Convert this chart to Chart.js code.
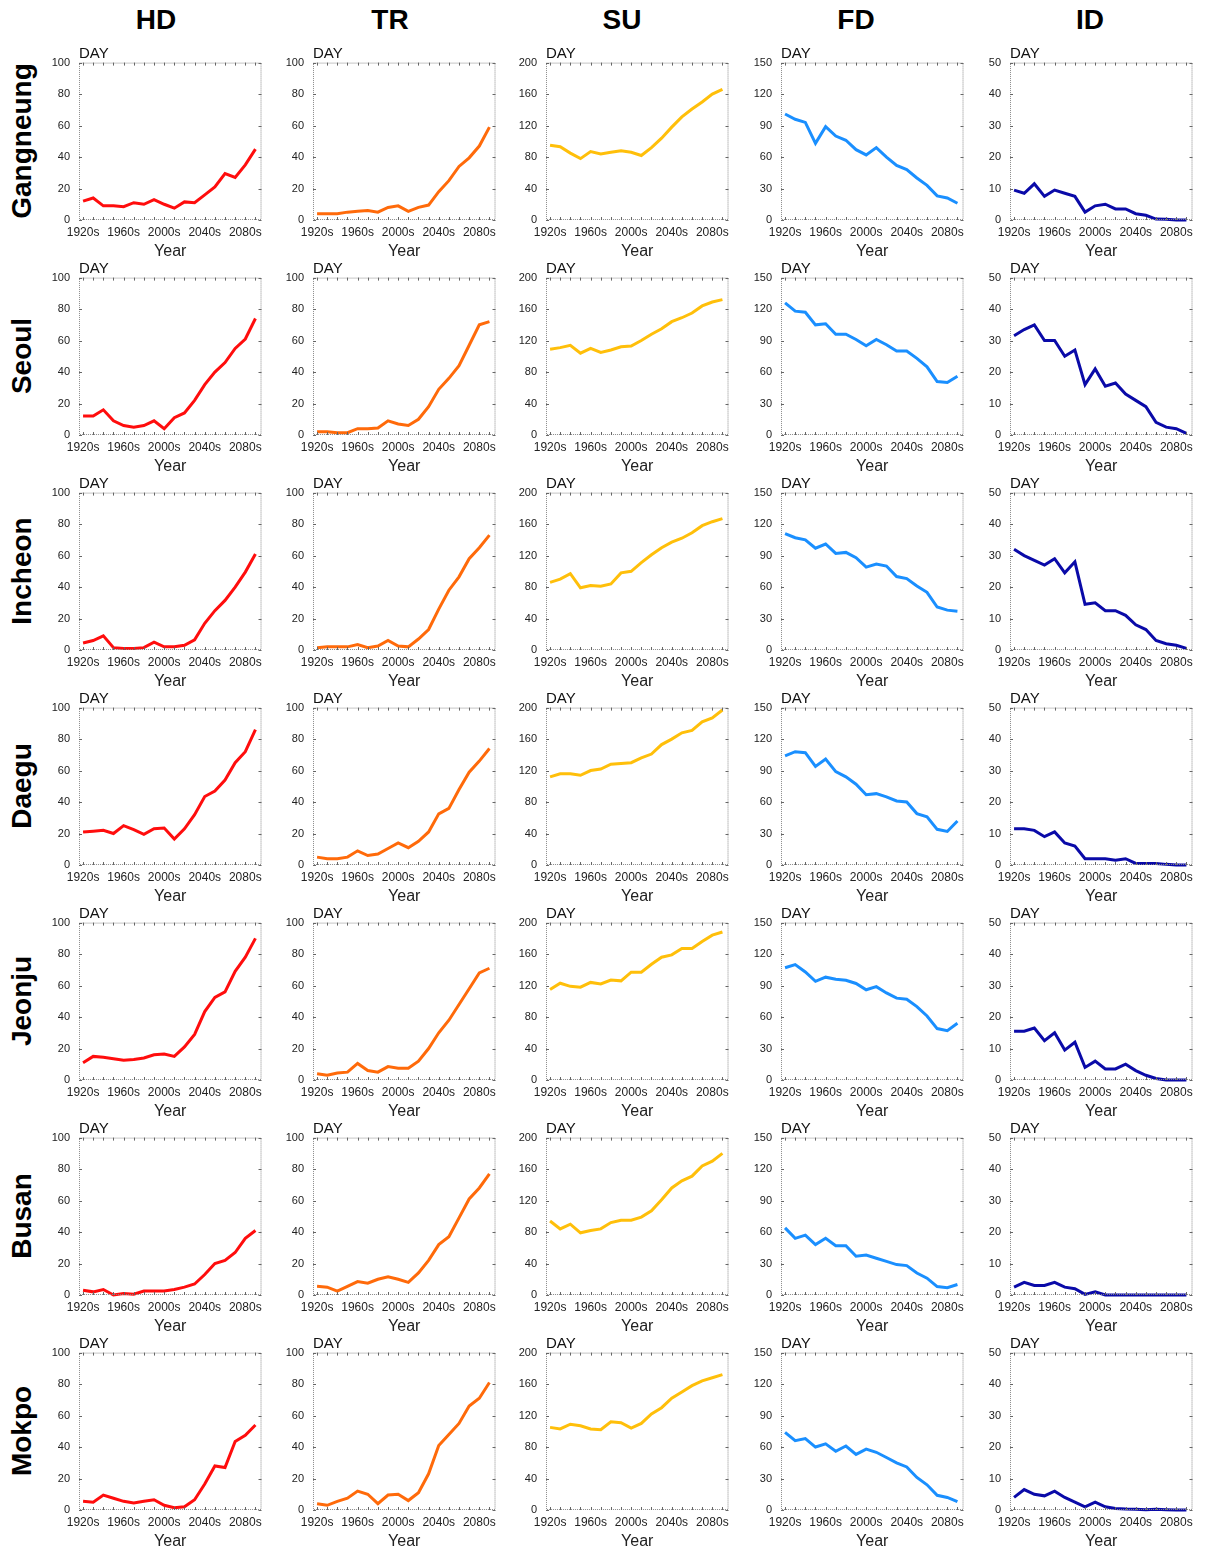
<!DOCTYPE html>
<html>
<head>
<meta charset="utf-8">
<script src="https://cdn.jsdelivr.net/npm/chart.js@4.4.1/dist/chart.umd.min.js"></script>
<style>
  body { margin: 0; background: #fff; }
  #wrap { position: relative; width: 1205px; height: 1551px; background: #fff; font-family: "Liberation Sans", Arial, sans-serif; overflow: hidden; }
  canvas { position: absolute; }
  .colhead { position: absolute; font-weight: bold; font-size: 28px; color: #000; transform: translate(-50%, -50%); white-space: nowrap; }
  .rowhead { position: absolute; font-weight: bold; font-size: 28px; color: #000; transform: translate(-50%, -50%) rotate(-90deg); white-space: nowrap; }
  .day { position: absolute; font-size: 15px; line-height: 15px; color: #111; z-index: 2; }
</style>
</head>
<body>
<div id="wrap"></div>
<script>
// decades on the x axis
const decades = [1920, 1930, 1940, 1950, 1960, 1970, 1980, 1990, 2000, 2010, 2020, 2030, 2040, 2050, 2060, 2070, 2080, 2090];
const xTickValues = [1920, 1960, 2000, 2040, 2080];

const indices = ['HD', 'TR', 'SU', 'FD', 'ID'];
const cities = ['Gangneung', 'Seoul', 'Incheon', 'Daegu', 'Jeonju', 'Busan', 'Mokpo'];

// y axis per index
const yMax = [100, 100, 200, 150, 50];
const yStep = [20, 20, 40, 30, 10];
const lineColors = ['#ff0d0d', '#ff6a0a', '#ffbf0a', '#1a8fff', '#0a0aa8'];

// Gangneung
const gangneungHD = [12, 14, 9, 9, 8.5, 11, 10, 13, 10, 7.5, 11.5, 11, 16, 21, 29.5, 27, 35, 45];
const gangneungTR = [4, 4, 4, 5, 5.5, 6, 5, 8, 9, 5.5, 8, 9.5, 18, 25, 34, 39.5, 47, 59];
const gangneungSU = [95, 93, 85, 78, 87, 84, 86, 88, 86, 82, 92, 104, 118, 131, 141, 150, 160, 166];
const gangneungFD = [101, 96, 93, 73, 89, 80, 76, 67, 62, 69, 60, 52, 48, 40, 33, 23, 21, 16];
const gangneungID = [9.5, 8.5, 11.5, 7.5, 9.5, 8.5, 7.5, 2.5, 4.5, 5, 3.5, 3.5, 2, 1.5, 0.3, 0.2, 0, 0];

// Seoul
const seoulHD = [12, 12, 16, 9, 6, 5, 6, 9, 4, 11, 14, 22, 32, 40, 46, 55, 61, 74];
const seoulTR = [2, 2, 1.5, 1.5, 4, 4, 4.5, 9, 7, 6, 10, 18, 29, 36, 44, 57, 70, 72];
const seoulSU = [109, 111, 114, 104, 110, 105, 108, 112, 113, 120, 128, 135, 144, 149, 155, 164, 169, 172];
const seoulFD = [126, 118, 117, 105, 106, 96, 96, 91, 85, 91, 86, 80, 80, 73, 65, 51, 50, 56];
const seoulID = [31.5, 33.5, 35, 30, 30, 25, 27, 16, 21, 15.5, 16.5, 13, 11, 9, 4, 2.5, 2, 0.5];

// Incheon
const incheonHD = [4.5, 6, 9, 1.5, 1, 1, 1.5, 5, 2, 2, 3, 6.5, 17, 25, 31.5, 40, 49.5, 61];
const incheonTR = [1.5, 2, 2, 2, 3.5, 1.5, 2.5, 6, 2.5, 2, 7, 13, 26, 38, 46.5, 58, 65, 73];
const incheonSU = [86, 90, 97, 79, 82, 81, 84, 98, 100, 111, 121, 130, 137, 142, 149, 158, 163, 167];
const incheonFD = [111, 107, 105, 97, 101, 92, 93, 88, 79, 82, 80, 70, 68, 61, 55, 41, 38, 37];
const incheonID = [32, 30, 28.5, 27, 29, 24.5, 28, 14.5, 15, 12.5, 12.5, 11, 8, 6.5, 3, 2, 1.5, 0.5];

// Daegu
const daeguHD = [21, 21.5, 22, 20, 25, 22.5, 19.5, 23, 23.5, 16.5, 23, 32, 43.5, 47, 54, 65, 72, 86];
const daeguTR = [5, 4, 4, 5, 9, 6, 7, 10.5, 14, 11, 15, 21, 32.5, 36, 48, 59, 66, 74];
const daeguSU = [112, 116, 116, 114, 120, 122, 128, 129, 130, 136, 141, 153, 160, 168, 171, 182, 187, 197];
const daeguFD = [104, 108, 107, 94, 101, 89, 84, 77, 67, 68, 65, 61, 60, 49, 46, 34, 32, 42];
const daeguID = [11.5, 11.5, 11, 9, 10.5, 7, 6, 2, 2, 2, 1.5, 2, 0.5, 0.5, 0.5, 0.2, 0, 0];

// Jeonju
const jeonjuHD = [11, 15, 14.5, 13.5, 12.5, 13, 14, 16, 16.5, 15, 21, 29, 43.5, 52.5, 56, 69, 78, 90];
const jeonjuTR = [4, 3, 4.5, 5, 10.5, 6, 5, 8.5, 7.5, 7.5, 12, 20, 30, 38, 48, 58, 68, 71];
const jeonjuSU = [115, 123, 119, 118, 124, 122, 127, 126, 137, 137, 147, 156, 159, 167, 167, 176, 184, 188];
const jeonjuFD = [107, 110, 103, 94, 98, 96, 95, 92, 86, 89, 83, 78, 77, 70, 61, 49, 47, 54];
const jeonjuID = [15.5, 15.5, 16.5, 12.5, 15, 9.5, 12, 4, 6, 3.5, 3.5, 5, 3, 1.5, 0.5, 0, 0, 0];

// Busan
const busanHD = [3, 2, 3.5, 0, 1, 0.5, 2.5, 2.5, 2.5, 3.5, 5, 7, 13, 20, 22, 27, 36, 41];
const busanTR = [5.5, 5, 2.5, 5.5, 8.5, 7.5, 10, 11.5, 10, 8, 14, 22, 32, 37, 49, 61, 68, 77];
const busanSU = [94, 84, 90, 79, 82, 84, 92, 95, 95, 99, 107, 121, 136, 145, 151, 164, 170, 180];
const busanFD = [64, 54, 57, 48, 54, 47, 47, 37, 38, 35, 32, 29, 28, 21, 16, 8, 7, 10];
const busanID = [2.5, 4, 3, 3, 4, 2.5, 2, 0.2, 1, 0, 0, 0, 0, 0, 0, 0, 0, 0];

// Mokpo
const mokpoHD = [5.5, 5, 9.5, 7.5, 5.5, 4.5, 5.5, 6.5, 3, 1.5, 2, 6.5, 16.5, 28, 27, 43.5, 47.5, 54];
const mokpoTR = [4, 3, 5.5, 7.5, 12, 10, 4, 9.5, 10, 6, 11, 23, 41, 48, 55, 66, 71, 81];
const mokpoSU = [105, 103, 109, 107, 103, 102, 112, 111, 104, 110, 122, 130, 142, 150, 158, 164, 168, 172];
const mokpoFD = [74, 66, 68, 60, 63, 56, 61, 53, 58, 55, 50, 45, 41, 31, 24, 14, 12, 8];
const mokpoID = [4, 6.5, 5, 4.5, 6, 4, 2.5, 1, 2.5, 1, 0.5, 0.3, 0.2, 0.1, 0.2, 0.1, 0, 0];

const seriesByCity = [
  [gangneungHD, gangneungTR, gangneungSU, gangneungFD, gangneungID],
  [seoulHD, seoulTR, seoulSU, seoulFD, seoulID],
  [incheonHD, incheonTR, incheonSU, incheonFD, incheonID],
  [daeguHD, daeguTR, daeguSU, daeguFD, daeguID],
  [jeonjuHD, jeonjuTR, jeonjuSU, jeonjuFD, jeonjuID],
  [busanHD, busanTR, busanSU, busanFD, busanID],
  [mokpoHD, mokpoTR, mokpoSU, mokpoFD, mokpoID]
];

// layout of the grid (plot area corners)
const plotLeft = [79, 313, 546, 781, 1010];
const plotTop0 = 62;
const rowPitch = 215;
const plotW = 184;
const plotH = 158;
const axisW = 40;
const axisH = 41;
const padTop = 15;   // room Chart.js keeps above the plot for the top tick label
const padRight = 4;
const fontFamily = '"Liberation Sans", Arial, sans-serif';

// dotted frame with small inward ticks
const framePlugin = {
  id: 'frame',
  afterDraw(chart) {
    const { ctx, chartArea: a, scales } = chart;
    ctx.save();
    ctx.strokeStyle = '#8a8a8a';
    ctx.lineWidth = 1;
    ctx.setLineDash([1, 1]);
    ctx.strokeRect(a.left + 0.5, a.top + 0.5, a.right - a.left - 1, a.bottom - a.top - 1);
    ctx.setLineDash([]);
    ctx.strokeStyle = '#666';
    ctx.beginPath();
    decades.forEach(d => {
      const x = Math.round(scales.x.getPixelForValue(d)) + 0.5;
      ctx.moveTo(x, a.bottom); ctx.lineTo(x, a.bottom - 3);
      ctx.moveTo(x, a.top); ctx.lineTo(x, a.top + 3);
    });
    scales.y.ticks.forEach(t => {
      const y = Math.round(scales.y.getPixelForValue(t.value)) + 0.5;
      ctx.moveTo(a.left, y); ctx.lineTo(a.left + 3, y);
      ctx.moveTo(a.right, y); ctx.lineTo(a.right - 3, y);
    });
    ctx.stroke();
    ctx.restore();
  }
};

const wrap = document.getElementById('wrap');

function addText(cls, text, x, y) {
  const el = document.createElement('div');
  el.className = cls;
  el.textContent = text;
  el.style.left = x + 'px';
  el.style.top = y + 'px';
  wrap.appendChild(el);
}

// column headers
const headCenters = [156, 390, 622, 856, 1090];
indices.forEach((name, c) => addText('colhead', name, headCenters[c], 20));

function renderPanel(r, c) {
  const top = plotTop0 + r * rowPitch;
  const canvas = document.createElement('canvas');
  canvas.width = axisW + plotW + padRight;
  canvas.height = padTop + plotH + axisH;
  canvas.style.left = (plotLeft[c] - axisW) + 'px';
  canvas.style.top = (top - padTop) + 'px';
  wrap.appendChild(canvas);

  addText('day', 'DAY', plotLeft[c], top - 17);

  const values = seriesByCity[r][c];
  new Chart(canvas.getContext('2d'), {
    type: 'line',
    data: {
      datasets: [{
        data: decades.map((d, i) => ({ x: d, y: values[i] })),
        borderColor: lineColors[c],
        borderWidth: 3,
        pointRadius: 0,
        tension: 0,
        fill: false,
        clip: 4
      }]
    },
    options: {
      responsive: false,
      animation: false,
      devicePixelRatio: 1,
      layout: { padding: { top: 0, right: padRight, left: 0, bottom: 0 } },
      plugins: { legend: { display: false }, tooltip: { enabled: false } },
      scales: {
        x: {
          type: 'linear',
          min: 1916,
          max: 2096,
          afterBuildTicks: s => { s.ticks = xTickValues.map(v => ({ value: v })); },
          afterFit: s => { s.height = axisH; },
          ticks: {
            callback: v => v + 's',
            font: { family: fontFamily, size: 12 },
            color: '#222',
            padding: 5,
            maxRotation: 0,
            autoSkip: false
          },
          grid: { display: false, drawTicks: false },
          border: { display: false },
          title: { display: true, text: 'Year', font: { family: fontFamily, size: 16 }, color: '#222', padding: 0 }
        },
        y: {
          min: 0,
          max: yMax[c],
          afterFit: s => { s.width = axisW; },
          ticks: {
            stepSize: yStep[c],
            font: { family: fontFamily, size: 11 },
            color: '#222',
            padding: 9
          },
          grid: { display: false, drawTicks: false },
          border: { display: false }
        }
      }
    },
    plugins: [framePlugin]
  });
}

cities.forEach((city, r) => {
  addText('rowhead', city, 22, plotTop0 + r * rowPitch + plotH / 2);
  indices.forEach((idx, c) => renderPanel(r, c));
});
</script>
</body>
</html>
